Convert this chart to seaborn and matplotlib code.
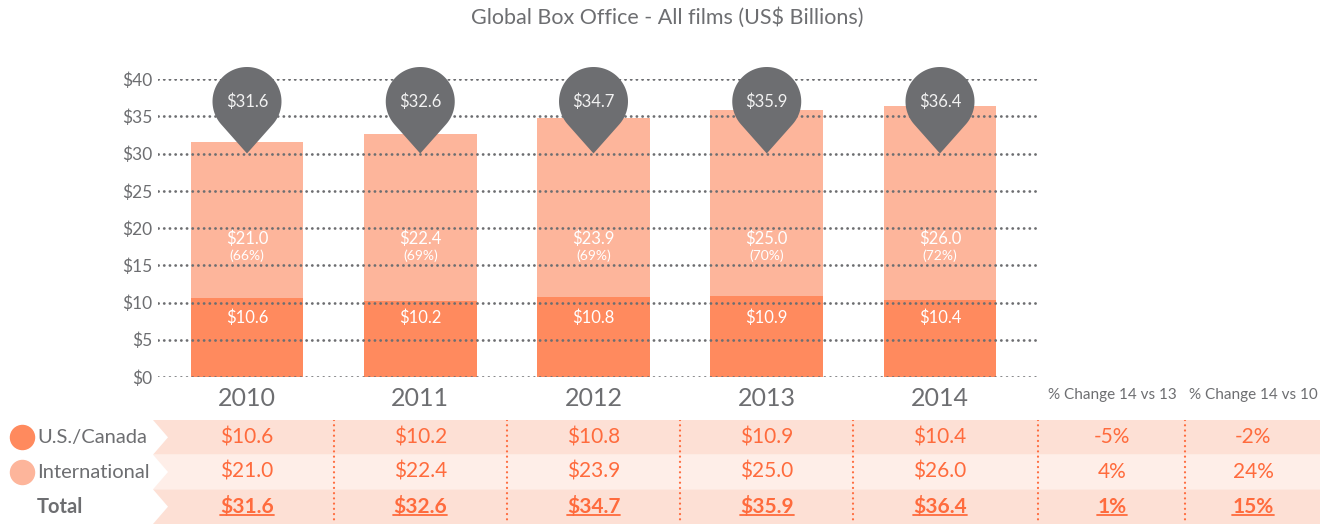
import matplotlib
matplotlib.use("Agg")
import matplotlib.pyplot as plt
import matplotlib.transforms as mtransforms
from matplotlib.patches import Polygon
from matplotlib.lines import Line2D
import numpy as np
import pandas as pd
import seaborn as sns

years = ["2010", "2011", "2012", "2013", "2014"]
us_canada = [10.6, 10.2, 10.8, 10.9, 10.4]
international = [21.0, 22.4, 23.9, 25.0, 26.0]
totals = [31.6, 32.6, 34.7, 35.9, 36.4]
intl_share = [66, 69, 69, 70, 72]
y_ticks = [0, 5, 10, 15, 20, 25, 30, 35, 40]

change_headers = ["% Change 14 vs 13", "% Change 14 vs 10"]
change_us = ["-5%", "-2%"]
change_intl = ["4%", "24%"]
change_total = ["1%", "15%"]

US_COLOR = "#FF8A5E"
INTL_COLOR = "#FDB59B"
GREY = "#6D6E71"
ORANGE = "#FF6B3D"
ROW_DARK = "#FDE0D5"
ROW_LIGHT = "#FEEEE8"

sns.set_theme(style="white")
plt.rcParams["font.family"] = ["Lato", "DejaVu Sans"]

df = pd.DataFrame({"year": years, "us": us_canada, "intl": international, "total": totals})

W, H = 1335, 524
fig = plt.figure(figsize=(W / 100, H / 100), dpi=100)

# layout in pixels of the reference
x_first, x_step = 247, 173.25
ax = fig.add_axes([158 / W, (H - 377) / H, (1037 - 158) / W, (377 - 79) / H])

sns.barplot(data=df, x="year", y="total", color=INTL_COLOR, saturation=1, width=0.65,
            linewidth=0, ax=ax, zorder=1)
sns.barplot(data=df, x="year", y="us", color=US_COLOR, saturation=1, width=0.65,
            linewidth=0, ax=ax, zorder=1)

ax.set_xlim((158 - x_first) / x_step, (1037 - x_first) / x_step)
ax.set_ylim(0, 40)
ax.set_xlabel("")
ax.set_ylabel("")
for s in ax.spines.values():
    s.set_visible(False)

for v in y_ticks:
    ax.axhline(v, color=GREY, lw=2.0, linestyle=(0, (0.05, 2.0)), dash_capstyle="round", zorder=2)

ax.set_yticks(y_ticks, [f"${v}" for v in y_ticks])
ax.tick_params(axis="y", length=0, pad=4, labelsize=12.5, labelcolor=GREY)
ax.set_xticks(range(len(years)), years)
ax.tick_params(axis="x", length=0, pad=7, labelsize=18, labelcolor=GREY)

# labels inside the bars
for i in range(len(years)):
    ax.text(i, 18.6, f"${international[i]:.1f}", ha="center", va="center", color="white", fontsize=12, zorder=4)
    ax.text(i, 16.3, f"({intl_share[i]}%)", ha="center", va="center", color="white", fontsize=10, zorder=4)
    ax.text(i, 7.9, f"${us_canada[i]:.1f}", ha="center", va="center", color="white", fontsize=12, zorder=4)

# pins with the totals
r, d = 0.345, 0.52
a0 = np.arccos(r / d)
ang = np.linspace(-np.pi / 2 + a0, 3 * np.pi / 2 - a0, 80)
pin = np.vstack([[0, 0], np.column_stack([r * np.cos(ang), d + r * np.sin(ang)]), [0, 0]])
for i, t in enumerate(totals):
    trans = fig.dpi_scale_trans + mtransforms.ScaledTranslation(i, 30, ax.transData)
    ax.add_patch(Polygon(pin, closed=True, transform=trans, facecolor=GREY, edgecolor="none", zorder=5, clip_on=False))
    ax.annotate(f"${t}", xy=(i, 30), xytext=(0, d * 72), textcoords="offset points",
                ha="center", va="center", color="#F2F2F2", fontsize=12, zorder=6)

fig.text(667 / W, 1 - 18 / H, "Global Box Office - All films (US$ Billions)",
         ha="center", va="center", color=GREY, fontsize=15.5)

# table below
tax = fig.add_axes([0, 0, 1, (H - 420) / H])
tax.set_xlim(-x_first / x_step, (W - x_first) / x_step)
tax.set_ylim(2.5, -0.5)
tax.axis("off")

change_cols = [(1112 - x_first) / x_step, (1253 - x_first) / x_step]
separators = [0.5, 1.5, 2.5, 3.5, (1038 - x_first) / x_step, (1185 - x_first) / x_step]
bx0, bx1, notch = (153 - x_first) / x_step, (1320 - x_first) / x_step, 15 / x_step

rows = [("U.S./Canada", us_canada, change_us, US_COLOR, ROW_DARK),
        ("International", international, change_intl, INTL_COLOR, ROW_LIGHT),
        ("Total", totals, change_total, None, ROW_DARK)]

total_texts = []
for r_i, (name, vals, chg, dot, band) in enumerate(rows):
    bold = name == "Total"
    tax.add_patch(Polygon([(bx0, r_i - 0.5), (bx1, r_i - 0.5), (bx1, r_i + 0.5), (bx0, r_i + 0.5),
                           (bx0 + notch, r_i)], closed=True, facecolor=band, edgecolor="none", zorder=1))
    if dot:
        tax.scatter([(22 - x_first) / x_step], [r_i], s=300, color=dot, zorder=3, clip_on=False)
    tax.text((37 - x_first) / x_step, r_i, name, ha="left", va="center", color=GREY, fontsize=14.5,
             fontweight="bold" if bold else "normal")
    for c, v in enumerate(vals):
        t = tax.text(c, r_i, f"${v:.1f}", ha="center", va="center", color=ORANGE, fontsize=15,
                     fontweight="bold" if bold else "normal", zorder=3)
        if bold:
            total_texts.append(t)
    for c, v in zip(change_cols, chg):
        t = tax.text(c, r_i, v, ha="center", va="center", color=ORANGE, fontsize=15,
                     fontweight="bold" if bold else "normal", zorder=3)
        if bold:
            total_texts.append(t)

for sx in separators:
    tax.plot([sx, sx], [-0.5, 2.5], color=ORANGE, lw=1.6, linestyle=(0, (0.05, 2.3)),
             dash_capstyle="round", zorder=2)

for c, h in zip(change_cols, change_headers):
    tax.text(c, -1.22, h, ha="center", va="center", color=GREY, fontsize=11, clip_on=False)

# underline the totals
fig.canvas.draw()
inv = fig.transFigure.inverted()
for t in total_texts:
    bb = t.get_window_extent()
    y = bb.y0 + 2
    (fx0, fy), (fx1, _) = inv.transform([(bb.x0, y), (bb.x1, y)])
    fig.add_artist(Line2D([fx0, fx1], [fy, fy], color=ORANGE, lw=1.3, transform=fig.transFigure))

fig.savefig("out.png", dpi=100)
